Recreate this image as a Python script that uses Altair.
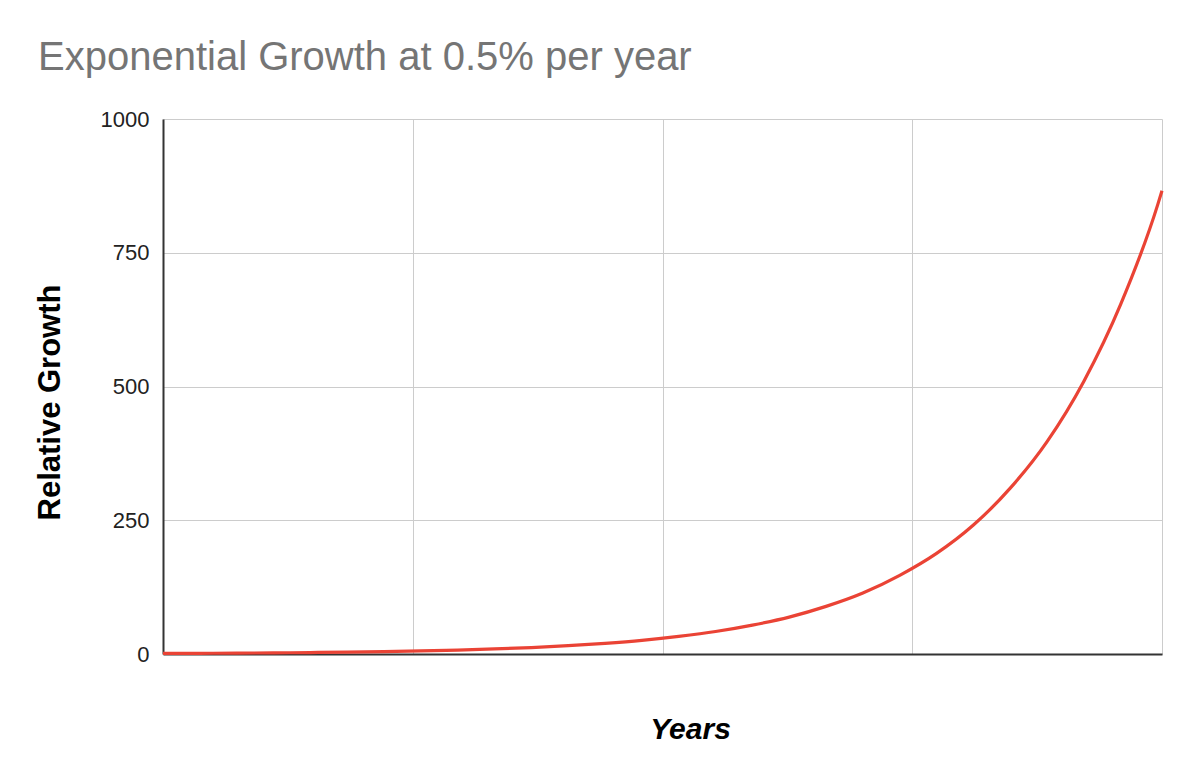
import altair as alt
import pandas as pd

# Years (x) and relative growth (y)
years = [0, 50, 100, 150, 200, 250, 300, 350, 400, 450, 500, 550, 600, 650,
         700, 750, 800, 850, 900, 950, 1000, 1050, 1100, 1150, 1200, 1250,
         1300, 1350, 1356]
growth = [1, 1.3, 1.6, 2.1, 2.7, 3.5, 4.5, 5.7, 7.4, 9.4, 12, 15.5, 20, 25.6,
          33, 42, 54, 69, 89, 114, 147, 188, 241, 310, 397, 510,
          654, 839, 866]
y_ticks = [0, 250, 500, 750, 1000]
x_grid = [0, 339, 678, 1017, 1356]

df = pd.DataFrame({"year": years, "growth": growth})

FONT = "Liberation Sans"

chart = alt.Chart(df).mark_line(
    color="#EA4335", strokeWidth=3.2, interpolate="monotone"
).encode(
    x=alt.X(
        "year:Q",
        scale=alt.Scale(domain=[0, 1356], nice=False, zero=False),
        axis=alt.Axis(
            values=x_grid, labels=False, ticks=False, grid=True,
            gridColor="#cccccc", gridWidth=1,
            domainColor="#333333", domainWidth=2,
            title="Years", titleFont=FONT, titleFontSize=30,
            titleFontWeight="bold", titleFontStyle="italic", titleColor="#000000",
            titleX=527, titleY=75, titleBaseline="middle", titleAlign="center",
        ),
    ),
    y=alt.Y(
        "growth:Q",
        scale=alt.Scale(domain=[0, 1000], nice=False),
        axis=alt.Axis(
            values=y_ticks, ticks=False, grid=True, format="d",
            gridColor="#cccccc", gridWidth=1,
            domainColor="#333333", domainWidth=2,
            labelFont=FONT, labelFontSize=22, labelColor="#222222", labelPadding=14,
            title="Relative Growth", titleFont=FONT, titleFontSize=31,
            titleFontWeight="bold", titleColor="#000000",
            titleAngle=270, titleX=-113, titleY=283,
            titleBaseline="middle", titleAlign="center",
        ),
    ),
).properties(
    width=999,
    height=535,
    title=alt.TitleParams(
        "Exponential Growth at 0.5% per year",
        font=FONT, fontSize=40, fontWeight="normal", color="#757575",
        anchor="start", frame="group", dx=-125, offset=30,
    ),
    autosize=alt.AutoSizeParams(type="none"),
    padding={"left": 155, "top": 111, "right": 30, "bottom": 110},
).configure_view(stroke=None)

chart.save("out.html", embed_options={"renderer": "svg", "actions": False})
